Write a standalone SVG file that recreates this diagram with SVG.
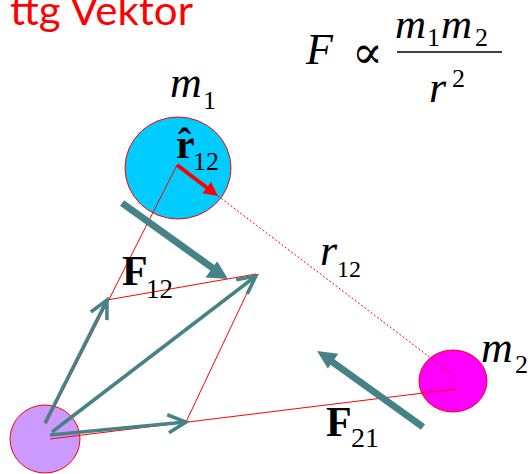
<svg xmlns="http://www.w3.org/2000/svg" width="531" height="474" viewBox="0 0 531 474">
<style>
.it{font-style:italic}
.bd{font-weight:bold}
.red{stroke:#FF0000;stroke-width:1;fill:none}
.dot{stroke:#FF0000;stroke-width:1;fill:none;stroke-dasharray:2 2}
.teal{stroke:#478386;stroke-width:3.5;fill:none;marker-end:url(#chev)}
.thick{stroke:#478386;stroke-width:7;fill:none}
.head{fill:#478386;stroke:none}
</style>
<defs>
<marker id="chev" markerUnits="userSpaceOnUse" markerWidth="1" markerHeight="1" refX="0" refY="0" orient="auto" style="overflow:visible">
<path d="M-18,-9 L0,0 L-18,9" fill="none" stroke="#478386" stroke-width="3.5" stroke-linejoin="miter"/>
</marker>
</defs>
<rect width="531" height="474" fill="#FFFFFF"/>
<text x="10" y="25" font-family="Lato, 'Open Sans', sans-serif" font-size="40" fill="#FF0000" textLength="183" lengthAdjust="spacingAndGlyphs">ttg Vektor</text>
<g id="formula" font-family="Liberation Serif, Times New Roman, Times, serif" fill="#000">
<text class="it" x="306" y="64" font-size="44">F</text>
<text x="352" y="68" font-size="46" font-family="DejaVu Serif, serif" textLength="31" lengthAdjust="spacingAndGlyphs">∝</text>
<text class="it" x="395" y="38" font-size="43">m</text>
<text x="427" y="46" font-size="26">1</text>
<text class="it" x="441" y="38" font-size="43">m</text>
<text x="475" y="46" font-size="26">2</text>
<line x1="397" y1="52" x2="502" y2="52" stroke="#000" stroke-width="1.5"/>
<text class="it" x="429" y="102" font-size="44">r</text>
<text x="452" y="87" font-size="26">2</text>
</g>
<g id="m1" font-family="Liberation Serif, Times New Roman, Times, serif" fill="#000">
<ellipse cx="178" cy="168" rx="53" ry="51" fill="#00CCFF" stroke="#FF0000" stroke-width="1"/>
<text class="it" x="170" y="97" font-size="44">m</text>
<text x="203" y="109" font-size="26">1</text>
</g>
<g id="m2" font-family="Liberation Serif, Times New Roman, Times, serif" fill="#000">
<ellipse cx="453" cy="381" rx="34" ry="31" fill="#FF00FF" stroke="#FF0000" stroke-width="1"/>
<text class="it" x="481" y="362" font-size="44">m</text>
<text x="515" y="373" font-size="26">2</text>
</g>
<g id="m3">
<ellipse cx="45" cy="439" rx="35" ry="34" fill="#CC99FF" stroke="#FF0000" stroke-width="1"/>
</g>
<g id="connectors">
<line class="red" x1="177" y1="165" x2="46" y2="424"/>
<line class="red" x1="107" y1="300" x2="256" y2="274"/>
<line class="red" x1="256" y1="274" x2="186" y2="422"/>
<line class="red" x1="50" y1="439" x2="456" y2="389"/>
<line class="dot" x1="218" y1="196" x2="457" y2="378"/>
<line stroke="#FF0000" stroke-width="4" x1="177" y1="165" x2="208" y2="188.5"/>
<polygon fill="#FF0000" points="218,196 202.6,193.2 211,182"/>
<line class="teal" x1="45" y1="423" x2="107" y2="300"/>
<line class="teal" x1="52" y1="432" x2="256" y2="276"/>
<line class="teal" x1="50" y1="435" x2="186" y2="422"/>
<line class="thick" x1="122" y1="203" x2="214" y2="269"/>
<polygon class="head" points="228,279 205.5,277.5 217.2,261.2"/>
<line class="thick" x1="423" y1="427" x2="331" y2="361"/>
<polygon class="head" points="317,351 338.3,353.8 327.8,368.4"/>
</g>
<g id="labels" font-family="Liberation Serif, Times New Roman, Times, serif" fill="#000">
<text class="bd" x="176" y="158" font-size="42">r</text>
<text class="bd" x="178" y="156" font-size="40">ˆ</text>
<text x="193" y="170" font-size="26">12</text>
<text class="bd" x="122" y="285" font-size="42">F</text>
<text x="146" y="298" font-size="27">12</text>
<text class="it" x="320" y="265" font-size="44">r</text>
<text x="337" y="277" font-size="24">12</text>
<text class="bd" x="326" y="436" font-size="42">F</text>
<text x="351" y="447" font-size="28">21</text>
</g>
</svg>
